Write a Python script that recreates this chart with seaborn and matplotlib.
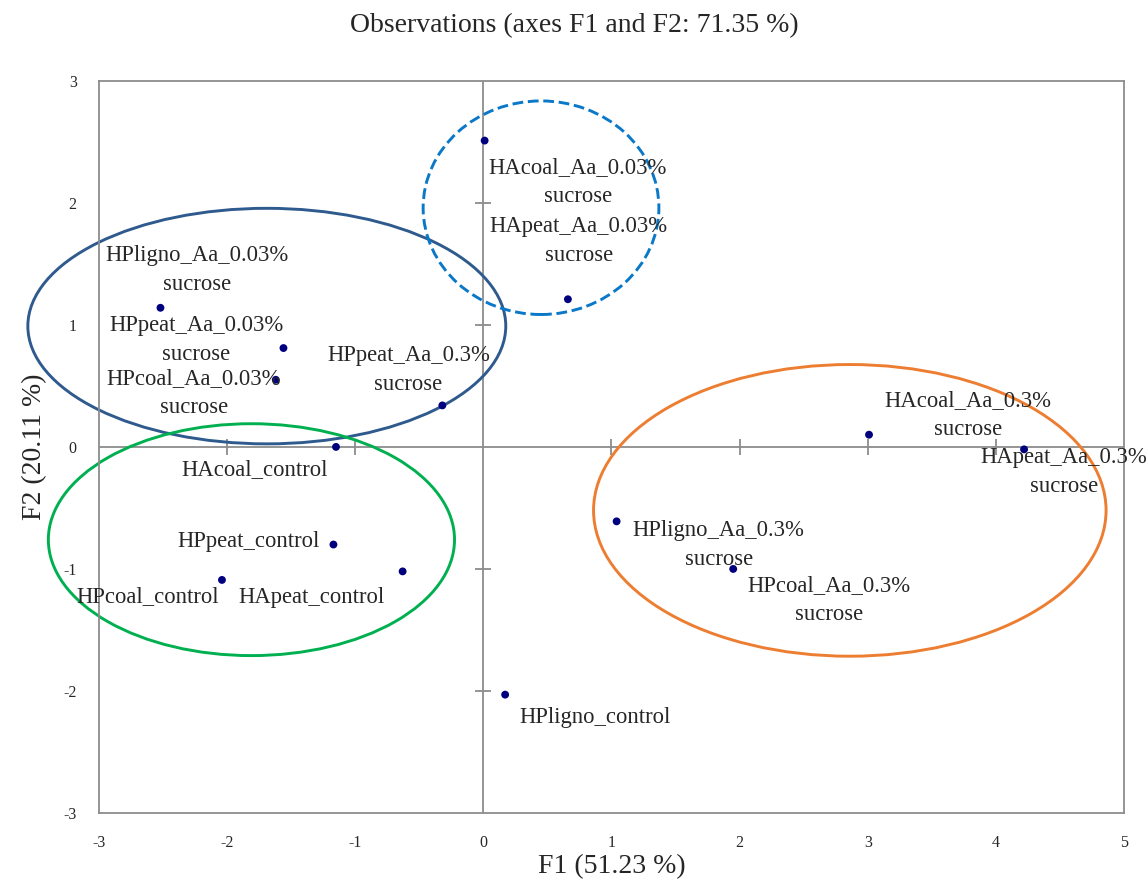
import seaborn as sns
import matplotlib.pyplot as plt
import pandas as pd
from matplotlib.patches import Ellipse

# observation scores on F1 / F2
names = ['HAcoal_Aa_0.03%', 'HApeat_Aa_0.03%', 'HPligno_Aa_0.03%', 'HPpeat_Aa_0.03%',
         'HPcoal_Aa_0.03%', 'HPpeat_Aa_0.3%', 'HAcoal_control', 'HPpeat_control',
         'HPcoal_control', 'HApeat_control', 'HPligno_control', 'HAcoal_Aa_0.3%',
         'HApeat_Aa_0.3%', 'HPligno_Aa_0.3%', 'HPcoal_Aa_0.3%']
f1 = [0.01, 0.66, -2.52, -1.56, -1.62, -0.32, -1.15, -1.17, -2.04, -0.63, 0.17, 3.01, 4.22, 1.04, 1.95]
f2 = [2.51, 1.21, 1.14, 0.81, 0.55, 0.34, 0.00, -0.80, -1.09, -1.02, -2.03, 0.10, -0.02, -0.61, -1.00]

# label offsets in pixels (dx right, dy down)
offsets = [(93, 41), (11, -58), (37, -38), (-87, -8), (-82, 13), (-34, -35), (-81, 23),
           (-85, -3), (-74, 17), (-91, 26), (90, 23), (99, -20), (40, 23), (102, 24), (96, 31)]

# group outlines: center x, center y, width, height, colour, linestyle
groups = [
    (-1.69, 0.99, 3.73, 1.93, '#2E5A8E', '-'),
    (0.45, 1.96, 1.84, 1.75, '#0A78C8', '--'),
    (-1.81, -0.76, 3.17, 1.90, '#00B050', '-'),
    (2.86, -0.52, 4.00, 2.39, '#ED7D31', '-'),
]

xticks = [-3, -2, -1, 0, 1, 2, 3, 4, 5]
yticks = [-3, -2, -1, 0, 1, 2, 3]

df = pd.DataFrame({'F1': f1, 'F2': f2, 'name': names})

sns.set_style('white')
plt.rcParams['font.family'] = ['Liberation Serif', 'DejaVu Serif']
plt.rcParams['axes.unicode_minus'] = False

fig = plt.figure(figsize=(11.48, 8.8), dpi=100)
ax = fig.add_axes([0.0862, 0.0761, 0.8929, 0.8321])

grey = '#8C8C8C'
ax.axhline(0, color=grey, lw=1.3, zorder=1)
ax.axvline(0, color=grey, lw=1.3, zorder=1)
# cross tick marks on the zero lines
ax.scatter([t for t in xticks if t not in (-3, 0, 5)], [0] * 6, marker='|', s=120,
           color=grey, linewidths=1.3, zorder=1)
ax.scatter([0] * 4, [t for t in yticks if t not in (-3, 0, 3)], marker='_', s=120,
           color=grey, linewidths=1.3, zorder=1)

for cx, cy, w, h, col, ls in groups:
    ax.add_patch(Ellipse((cx, cy), w, h, fill=False, edgecolor=col, lw=2.1, ls=ls,
                         zorder=2, clip_on=False))

sns.scatterplot(data=df, x='F1', y='F2', color='#00007F', s=32, edgecolor='none', ax=ax, zorder=3)

for i, row in df.iterrows():
    label = row['name']
    if 'Aa' in label:
        label = label + '\nsucrose'
    dx, dy = offsets[i]
    ax.annotate(label, (row['F1'], row['F2']), xytext=(dx * 0.72, -dy * 0.72),
                textcoords='offset points', ha='center', va='center',
                multialignment='center', fontsize=16.3, linespacing=1.5, zorder=4)

ax.set_xlim(-3, 5)
ax.set_ylim(-3, 3)
ax.set_xticks(xticks)
ax.set_yticks(yticks)
ax.tick_params(axis='x', length=0, labelsize=11.5, pad=16)
ax.tick_params(axis='y', length=0, labelsize=11.5, pad=16)
for s in ax.spines.values():
    s.set_color(grey)
    s.set_linewidth(1.3)

ax.set_xlabel('F1 (51.23 %)', fontsize=20, labelpad=2)
ax.set_ylabel('F2 (20.11 %)', fontsize=20, labelpad=12)
fig.suptitle('Observations (axes F1 and F2: 71.35 %)', fontsize=20, y=0.985)

fig.savefig('out.png', dpi=100)
